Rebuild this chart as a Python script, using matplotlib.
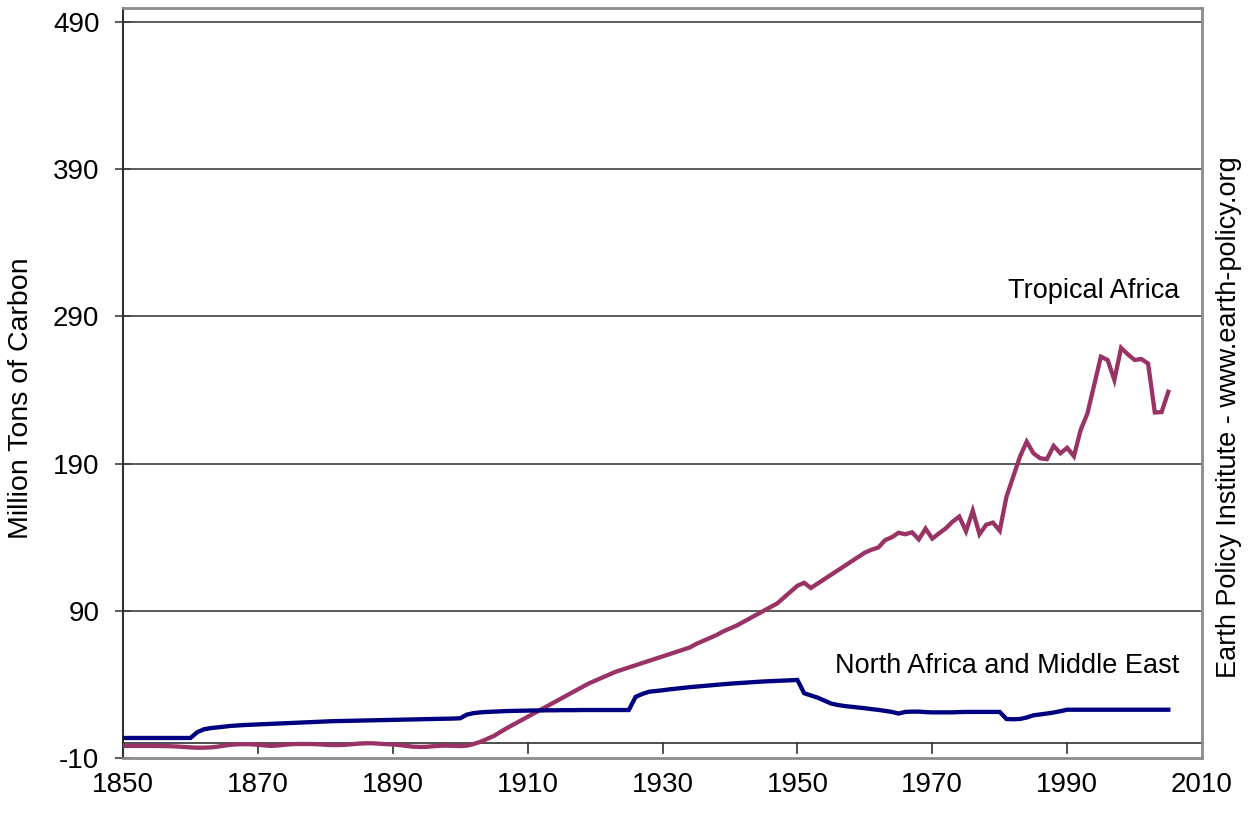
import numpy as np
import matplotlib.pyplot as plt

plt.rcParams['font.family'] = ['Liberation Sans', 'DejaVu Sans']
plt.rcParams['axes.unicode_minus'] = False

# years 1850..2005
years = np.arange(1850, 2006)

# Tropical Africa, million tons of carbon
tropical_africa = [
    -1.8, -1.8, -1.8, -1.8, -1.8, -1.8, -1.9, -2.0, -2.2, -2.5,
    -2.8, -3.0, -3.0, -2.8, -2.3, -1.6, -1.0, -0.7, -0.6, -0.7,
    -1.0, -1.5, -1.8, -1.5, -1.0, -0.6, -0.5, -0.5, -0.5, -0.7,
    -1.0, -1.2, -1.2, -1.0, -0.6, -0.2, 0.0, 0.0, -0.3, -0.6,
    -0.8, -1.2, -1.8, -2.3, -2.5, -2.4, -2.0, -1.7, -1.6, -1.7,
    -1.9, -1.6, -0.5, 1.0, 3.0, 5.0, 7.8, 10.5, 13.0, 15.5,
    18.0, 20.5, 23.0, 25.5, 28.0, 30.5, 33.0, 35.5, 38.0, 40.5,
    42.5, 44.5, 46.5, 48.5, 50.0, 51.5, 53.0, 54.5, 56.0, 57.5,
    59.0, 60.5, 62.0, 63.5, 65.0, 67.5, 69.5, 71.5, 73.5, 76.0,
    78.0, 80.0, 82.5, 85.0, 87.5, 90.0, 92.5, 95.0, 99.0, 103.0,
    107.0, 109.0, 105.5, 108.5, 111.5, 114.5, 117.5, 120.5, 123.5, 126.5,
    129.5, 131.5, 133.0, 138.0, 140.0, 143.0, 142.0, 143.3, 138.5, 145.8,
    139.0, 142.6, 146.0, 150.5, 154.0, 144.0, 158.0, 142.0, 148.5, 149.9,
    144.4, 167.5, 181.0, 194.7, 204.9, 197.0, 193.6, 193.0, 202.0, 197.0,
    200.7, 195.0, 212.8, 224.0, 243.4, 262.6, 260.4, 246.8, 268.6, 264.2,
    260.4, 261.0, 258.0, 224.7, 225.0, 238.8,
]

# North Africa and Middle East
north_africa_me = [
    3.6, 3.6, 3.6, 3.6, 3.6, 3.6, 3.6, 3.6, 3.6, 3.6,
    3.6, 7.5, 9.5, 10.3, 10.8, 11.3, 11.8, 12.1, 12.4, 12.6,
    12.8, 13.0, 13.2, 13.4, 13.6, 13.8, 14.0, 14.2, 14.4, 14.6,
    14.8, 15.0, 15.1, 15.2, 15.3, 15.4, 15.5, 15.6, 15.7, 15.8,
    15.9, 16.0, 16.1, 16.2, 16.3, 16.4, 16.5, 16.6, 16.7, 16.8,
    17.0, 19.5, 20.5, 21.0, 21.3, 21.5, 21.7, 21.9, 22.0, 22.1,
    22.2, 22.3, 22.3, 22.4, 22.4, 22.5, 22.5, 22.5, 22.6, 22.6,
    22.6, 22.6, 22.6, 22.6, 22.6, 22.6, 31.5, 33.5, 35.0, 35.5,
    36.0, 36.6, 37.1, 37.6, 38.1, 38.5, 38.9, 39.3, 39.7, 40.1,
    40.5, 40.8, 41.1, 41.4, 41.7, 42.0, 42.2, 42.4, 42.6, 42.8,
    43.0, 34.0, 32.5, 31.0, 29.0, 27.0, 26.0, 25.3, 24.8, 24.3,
    23.8, 23.2, 22.7, 22.0, 21.3, 20.2, 21.3, 21.5, 21.5, 21.2,
    21.0, 21.0, 21.0, 21.0, 21.2, 21.3, 21.3, 21.3, 21.3, 21.3,
    21.3, 16.5, 16.3, 16.5, 17.5, 19.0, 19.6, 20.2, 20.9, 21.8,
    22.8, 22.8, 22.8, 22.8, 22.8, 22.8, 22.8, 22.8, 22.8, 22.8,
    22.8, 22.8, 22.8, 22.8, 22.8, 22.8,
]

x_ticks = [1850, 1870, 1890, 1910, 1930, 1950, 1970, 1990, 2010]
y_ticks = [-10, 90, 190, 290, 390, 490]

fig = plt.figure(figsize=(12.49, 8.14), dpi=100)
ax = fig.add_axes([0.0985, 0.0688, 0.8639, 0.9214])

ax.set_xlim(1850, 2010)
ax.set_ylim(-10, 499.5)

# gridlines
for v in y_ticks[1:]:
    ax.axhline(v, color='#404040', lw=1.2, zorder=1)
# category axis crossing at zero
ax.axhline(0, color='#303030', lw=1.2, zorder=1)
for t in x_ticks[1:-1]:
    ax.plot([t, t], [0, -6.5], color='#303030', lw=1.2, zorder=1, clip_on=False)

ax.plot(years, tropical_africa, color='#993366', lw=3.1, solid_joinstyle='miter', zorder=3)
ax.plot(years, north_africa_me, color='#000080', lw=3.1, solid_joinstyle='miter', zorder=3)

ax.text(2006.6, 307, 'Tropical Africa', fontsize=19.5, ha='right', va='center')
ax.text(2006.6, 52.5, 'North Africa and Middle East', fontsize=19.5, ha='right', va='center')

for side in ['top', 'right', 'bottom']:
    ax.spines[side].set_color('#8c8c8c')
    ax.spines[side].set_linewidth(2)
ax.spines['left'].set_color('#303030')
ax.spines['left'].set_linewidth(1.5)

ax.set_xticks(x_ticks)
ax.set_yticks(y_ticks)
ax.tick_params(axis='x', length=0, pad=10, labelsize=20)
ax.tick_params(axis='y', direction='inout', length=12, width=1.2, color='#404040',
               pad=11, labelsize=20)

ax.set_ylabel('Million Tons of Carbon', fontsize=20.5)
ax.yaxis.set_label_coords(-0.0825, 0.48)

fig.text(0.984, 0.487, 'Earth Policy Institute - www.earth-policy.org', fontsize=19.5,
         rotation=90, ha='center', va='center')

fig.savefig('out.png', dpi=100)
